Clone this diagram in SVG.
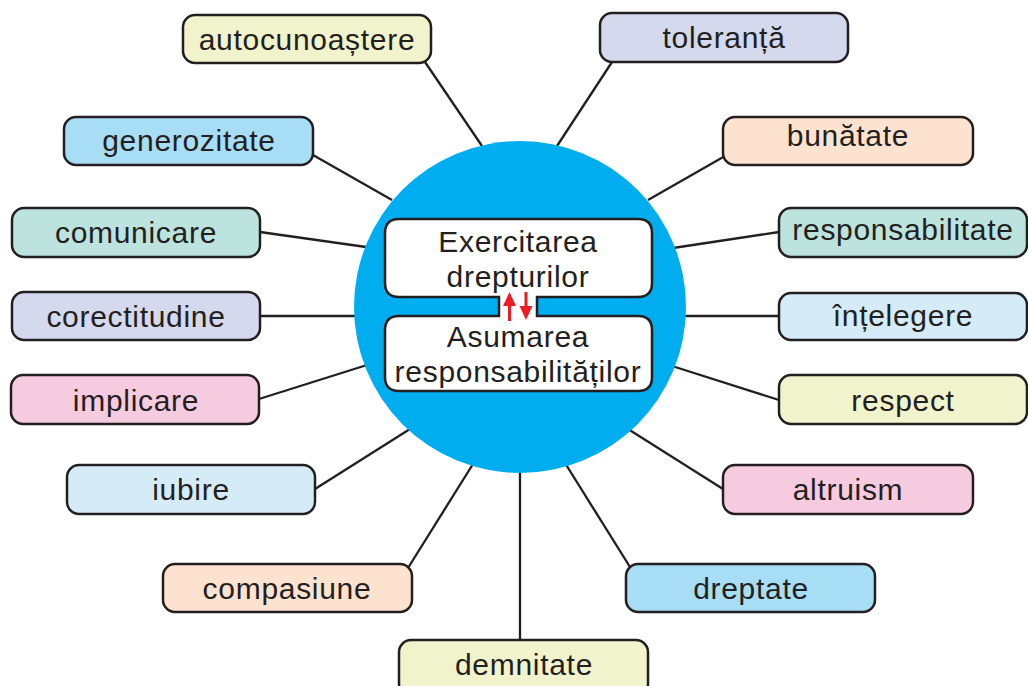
<svg xmlns="http://www.w3.org/2000/svg" width="1028" height="686" viewBox="0 0 1028 686">
<style>
.b{stroke:#231f20;stroke-width:2.5}
.t{font-family:"Liberation Sans",Arial,sans-serif;font-size:30px;letter-spacing:0.7px;fill:#231f20;text-anchor:middle}
.c line{stroke:#231f20;stroke-width:2.3}
.y{fill:#f1f3cc}.l{fill:#d5d9ee}.s{fill:#a8ddf6}.p{fill:#fde3cf}.g{fill:#bde3df}.w{fill:#d5ecf8}.k{fill:#f7cbdf}
</style>
<rect width="1028" height="686" fill="#ffffff"/>
<g class="c" id="connectors">
<line x1="425" y1="62" x2="482" y2="146"/>
<line x1="612" y1="62" x2="557" y2="146"/>
<line x1="313" y1="155" x2="392" y2="200"/>
<line x1="725" y1="156" x2="648" y2="200"/>
<line x1="260" y1="232" x2="366" y2="247"/>
<line x1="779" y1="232" x2="673" y2="248"/>
<line x1="260" y1="316" x2="356" y2="316"/>
<line x1="779" y1="316" x2="684" y2="316"/>
<line x1="259" y1="399" x2="367" y2="365"/>
<line x1="779" y1="400" x2="672" y2="366"/>
<line x1="315" y1="489" x2="410" y2="429"/>
<line x1="723" y1="489" x2="628" y2="429"/>
<line x1="408" y1="568" x2="473" y2="464"/>
<line x1="630" y1="567" x2="565" y2="463"/>
<line x1="520" y1="470" x2="520" y2="640"/>
</g>
<g id="center">
<circle cx="520" cy="307" r="166" fill="#00aeef"/>
<path class="b" fill="#ffffff" d="M399,219 H638 Q652,219 652,233 V283 Q652,297 638,297 H537 V316 H638 Q652,316 652,330 V377 Q652,391 638,391 H399 Q385,391 385,377 V330 Q385,316 399,316 H499 V297 H399 Q385,297 385,283 V233 Q385,219 399,219 Z"/>
<text class="t" x="518" y="252">Exercitarea</text>
<text class="t" x="518" y="287">drepturilor</text>
<text class="t" x="518" y="347">Asumarea</text>
<text class="t" x="518" y="382">responsabilităților</text>
<g fill="#ed1c24">
<rect x="508" y="304" width="3" height="17"/>
<polygon points="509.5,292 503,306 516,306"/>
<rect x="524.5" y="292" width="3" height="16"/>
<polygon points="526,320 519.5,306 532.5,306"/>
</g>
</g>
<g id="n-autocunoastere"><rect class="b y" x="183" y="15" width="248" height="48" rx="12"/><text class="t" x="307" y="50">autocunoaștere</text></g>
<g id="n-toleranta"><rect class="b l" x="600" y="13" width="248" height="49" rx="12"/><text class="t" x="724" y="48">toleranță</text></g>
<g id="n-generozitate"><rect class="b s" x="64" y="117" width="249" height="48" rx="12"/><text class="t" x="189" y="151">generozitate</text></g>
<g id="n-bunatate"><rect class="b p" x="723" y="117" width="250" height="48" rx="12"/><text class="t" x="848" y="146">bunătate</text></g>
<g id="n-comunicare"><rect class="b g" x="12" y="208" width="248" height="49" rx="12"/><text class="t" x="136" y="243">comunicare</text></g>
<g id="n-responsabilitate"><rect class="b g" x="779" y="208" width="248" height="49" rx="12"/><text class="t" x="903" y="240">responsabilitate</text></g>
<g id="n-corectitudine"><rect class="b l" x="12" y="292" width="248" height="48" rx="12"/><text class="t" x="136" y="327">corectitudine</text></g>
<g id="n-intelegere"><rect class="b w" x="779" y="293" width="248" height="47" rx="12"/><text class="t" x="903" y="326">înțelegere</text></g>
<g id="n-implicare"><rect class="b k" x="11" y="375" width="248" height="49" rx="12"/><text class="t" x="136" y="411">implicare</text></g>
<g id="n-respect"><rect class="b y" x="779" y="375" width="248" height="49" rx="12"/><text class="t" x="903" y="411">respect</text></g>
<g id="n-iubire"><rect class="b w" x="67" y="465" width="248" height="49" rx="12"/><text class="t" x="191" y="500">iubire</text></g>
<g id="n-altruism"><rect class="b k" x="723" y="465" width="250" height="49" rx="12"/><text class="t" x="848" y="500">altruism</text></g>
<g id="n-compasiune"><rect class="b p" x="163" y="564" width="249" height="48" rx="12"/><text class="t" x="287" y="599">compasiune</text></g>
<g id="n-dreptate"><rect class="b s" x="626" y="564" width="249" height="48" rx="12"/><text class="t" x="751" y="599">dreptate</text></g>
<g id="n-demnitate"><rect class="b y" x="399" y="640" width="249" height="56" rx="12"/><text class="t" x="524" y="675">demnitate</text></g>
</svg>
